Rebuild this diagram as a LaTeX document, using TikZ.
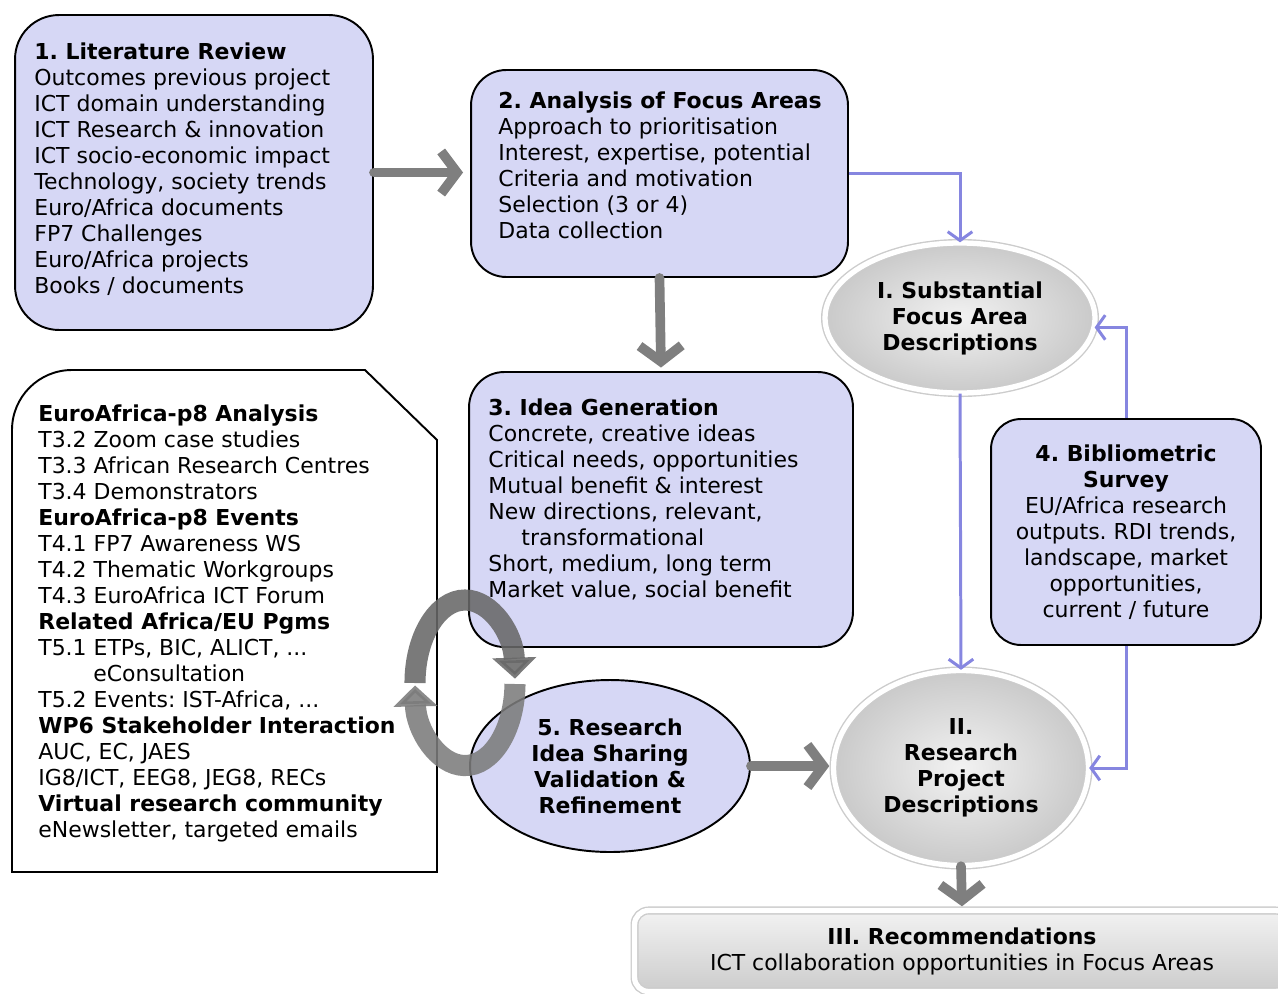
\documentclass[tikz,border=0pt]{standalone}
\usepackage{fontspec}
\setmainfont{DejaVu Sans}
\usetikzlibrary{arrows.meta, shapes.geometric, positioning}
\definecolor{lav}{HTML}{D6D7F5}
\definecolor{linkblue}{HTML}{8686E0}
\definecolor{arrgray}{HTML}{7F7F7F}
\definecolor{cycdark}{HTML}{686868}
\definecolor{cyclight}{HTML}{7C7C7C}
\newcommand\diagfont{\fontsize{12.5pt}{14.8pt}\selectfont\frenchspacing}
\tikzset{
    lavbox/.style={draw, line width=1.1pt, fill=lav, inner sep=0pt},
    boxtext/.style={anchor=north west, align=left, inner sep=0pt, font=\diagfont},
    grayoval/.style={ellipse, draw=gray!40, line width=0.8pt, double=white, double distance=3pt,
        inner color=gray!10, outer color=gray!42, inner sep=0pt, align=center, font=\diagfont\bfseries},
    bigarrow/.style={arrgray, line width=5.5pt, line cap=round, -{Straight Barb[length=9pt, width=24pt]}},
    bluelink/.style={linkblue, line width=1.7pt, -{Straight Barb[length=5pt, width=14pt]}},
    cycarrow/.style={line width=12pt, opacity=0.88, -{Triangle[length=0.42cm, width=0.86cm]}},
}

\begin{document}
\begin{tikzpicture}[x=0.02cm, y=0.02cm]
    \useasboundingbox (0,0) rectangle (1278,-994);

    % left column
    \node[lavbox, rounded corners=25pt, minimum width=7.16cm, minimum height=6.3cm] (litrev) at (194,-172.5) {};
    \node[boxtext] (litrev text) at ([xshift=0.4cm, yshift=-0.56cm]litrev.north west)
        {\textbf{1. Literature Review}\\ Outcomes previous project\\ ICT domain understanding\\
         ICT Research \& innovation\\ ICT socio-economic impact\\ Technology, society trends\\
         Euro/Africa documents\\ FP7 Challenges\\ Euro/Africa projects\\ Books / documents};

    \draw[line width=1.1pt, fill=white] (437,-872) -- (12,-872) -- (12,-430)
        arc[start angle=180, end angle=90, radius=60] -- (365,-370) -- (437,-440) -- cycle;
    \node[boxtext] (inputs) at (38,-404)
        {\textbf{EuroAfrica-p8 Analysis}\\ T3.2 Zoom case studies\\ T3.3 African Research Centres\\
         T3.4 Demonstrators\\ \textbf{EuroAfrica-p8 Events}\\ T4.1 FP7 Awareness WS\\
         T4.2 Thematic Workgroups\\ T4.3 EuroAfrica ICT Forum\\ \textbf{Related Africa/EU Pgms}\\
         T5.1 ETPs, BIC, ALICT, ...\\ \hspace*{1.1cm}eConsultation\\ T5.2 Events: IST-Africa, ...\\
         \textbf{WP6 Stakeholder Interaction}\\ AUC, EC, JAES\\ IG8/ICT, EEG8, JEG8, RECs\\
         \textbf{Virtual research community}\\ eNewsletter, targeted emails};

    % middle column
    \node[lavbox, rounded corners=20pt, minimum width=7.54cm, minimum height=4.14cm] (focus) at (659.5,-173.5) {};
    \node[boxtext] (focus text) at ([xshift=0.56cm, yshift=-0.44cm]focus.north west)
        {\textbf{2. Analysis of Focus Areas}\\ Approach to prioritisation\\ Interest, expertise, potential\\
         Criteria and motivation\\ Selection (3 or 4)\\ Data collection};

    \node[lavbox, rounded corners=20pt, minimum width=7.68cm, minimum height=5.5cm] (ideas) at (661,-509.5) {};
    \node[boxtext] (ideas text) at ([xshift=0.4cm, yshift=-0.54cm]ideas.north west)
        {\textbf{3. Idea Generation}\\ Concrete, creative ideas\\ Critical needs, opportunities\\
         Mutual benefit \& interest\\ New directions, relevant,\\ \hspace*{0.66cm}transformational\\
         Short, medium, long term\\ Market value, social benefit};

    \node[ellipse, draw, line width=1.1pt, fill=lav, minimum width=5.6cm, minimum height=3.44cm,
          inner sep=0pt, align=center, font=\diagfont\bfseries] (sharing) at (610,-766)
        {5. Research\\ Idea Sharing\\ Validation \&\\ Refinement};

    % right column
    \node[grayoval, minimum width=5.4cm, minimum height=3.0cm] (sfad) at (960,-318)
        {I. Substantial\\ Focus Area\\ Descriptions};

    \node[grayoval, minimum width=5.1cm, minimum height=3.9cm] (rpd) at (961,-768)
        {II.\\ Research\\ Project\\ Descriptions};

    \node[lavbox, rounded corners=17pt, minimum width=5.4cm, minimum height=4.52cm,
          align=center, font=\diagfont] (biblio) at (1126,-532)
        {\textbf{4. Bibliometric}\\ \textbf{Survey}\\ EU/Africa research\\ outputs. RDI trends,\\
         landscape, market\\ opportunities,\\ current / future};

    \node[draw=gray!40, line width=0.8pt, double=white, double distance=3pt, rounded corners=8pt,
          top color=gray!10, bottom color=gray!40, minimum width=13.1cm, minimum height=1.62cm,
          align=center, font=\diagfont] (recs) at (962,-951)
        {\textbf{III. Recommendations}\\ ICT collaboration opportunities in Focus Areas};

    % flow arrows
    \draw[bigarrow] (litrev.east) -- ([xshift=-4pt]focus.west |- litrev.east);
    \draw[bigarrow] (focus.south) -- ([yshift=2pt]ideas.north);
    \draw[bigarrow] (sharing.east) -- ([xshift=-2pt]rpd.west |- sharing.east);
    \draw[bigarrow] (rpd.south) -- ([yshift=2pt]recs.north);

    \draw[bluelink] (focus.east) -| (sfad.north);
    \draw[bluelink] (sfad.south) -- (rpd.north);
    \draw[bluelink] (biblio.north) |- (sfad.-4);
    \draw[bluelink] (biblio.south) |- (rpd.east);

    % cycle between 3 and 5
    \draw[cycarrow, color=cycdark] (415,-683) arc[start angle=180, end angle=3, x radius=50, y radius=83];
    \draw[cycarrow, color=cyclight] (515,-684) arc[start angle=-1, end angle=-178, x radius=50, y radius=83];
\end{tikzpicture}
\end{document}
